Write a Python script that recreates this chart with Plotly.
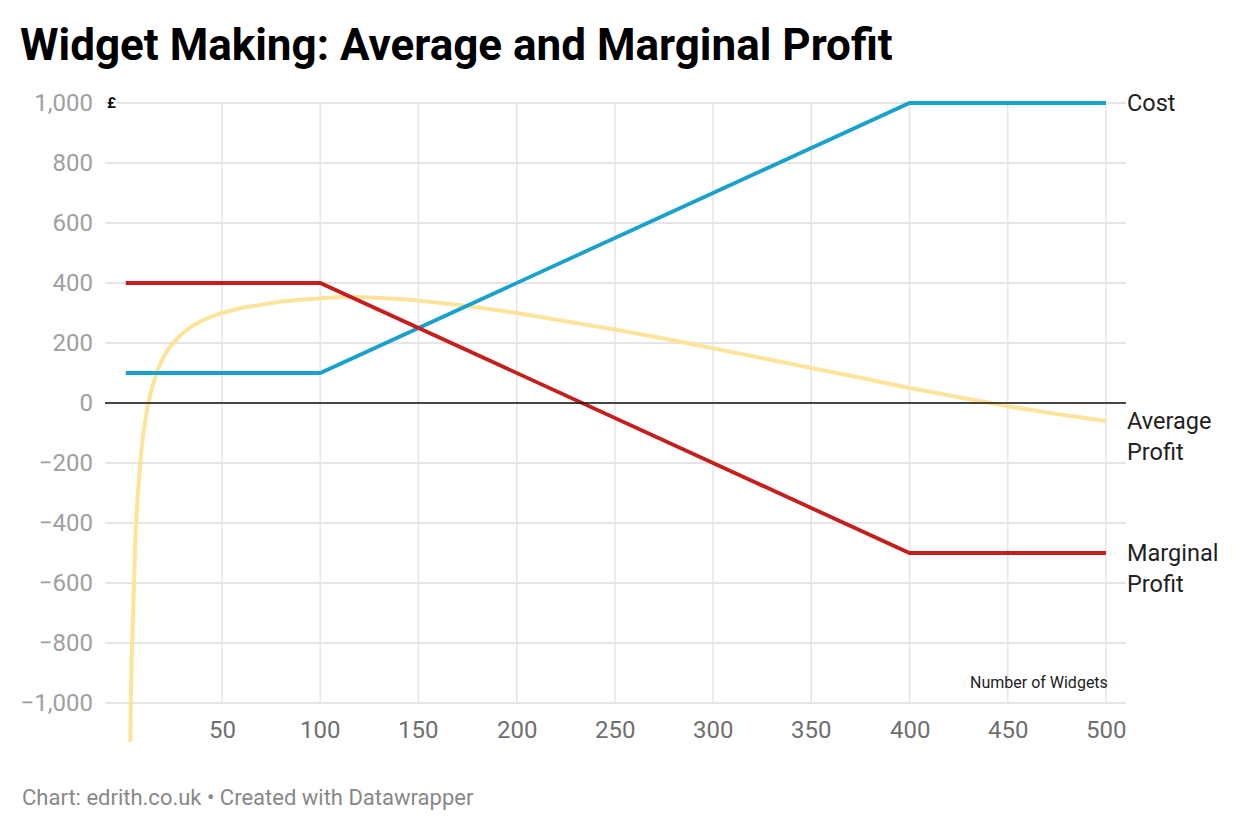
import plotly.graph_objects as go

# ---- data ----
cost_x = [1, 100, 400, 500]
cost_y = [100, 100, 1000, 1000]

marginal_x = [1, 100, 400, 500]
marginal_y = [400, 400, -500, -500]

average_x = [2, 2.5, 3, 3.5, 4, 4.5, 5, 6, 7, 8, 9, 10, 12, 14, 17, 20, 22, 25, 27, 30, 35, 40, 45,
             50, 60, 70, 80, 90, 100, 110, 120, 130, 140, 150, 175, 200, 225, 250, 275, 300,
             325, 350, 375, 400, 425, 450, 475, 500]
average_y = [-2100, -1600, -1267, -1029, -850, -711, -600, -433, -314, -225, -156, -100, -17, 43, 106,
             150, 173, 200, 215, 233, 257, 275, 289, 300, 317, 329, 338, 344, 350, 353, 353, 351,
             347, 342, 323, 300, 274, 245, 215, 183, 151, 118, 84, 50, 18, -11, -37, -60]

x_ticks = [50, 100, 150, 200, 250, 300, 350, 400, 450, 500]
y_ticks = [1000, 800, 600, 400, 200, 0, -200, -400, -600, -800, -1000]

title = "Widget Making: Average and Marginal Profit"
footer = "Chart: edrith.co.uk • Created with Datawrapper"
x_title = "Number of Widgets"
unit = "£"

BLUE = "#18a1cd"
RED = "#c71e1d"
YELLOW = "#fee49a"
FONT = "Roboto"

# page offset (browser body margin) compensation
OFF = 8
W, H = 1240, 830
L, R, T, B = 105 - OFF, 114 + OFF, 94 - OFF, 88 + OFF
PW, PH = W - L - R, H - T - B

fig = go.Figure()
fig.add_trace(go.Scatter(x=average_x, y=average_y, mode="lines",
                         line=dict(color=YELLOW, width=4), name="Average Profit"))
fig.add_trace(go.Scatter(x=cost_x, y=cost_y, mode="lines",
                         line=dict(color=BLUE, width=3.8), name="Cost"))
fig.add_trace(go.Scatter(x=marginal_x, y=marginal_y, mode="lines",
                         line=dict(color=RED, width=3.8), name="Marginal Profit"))

shapes = []
for t in x_ticks:
    shapes.append(dict(type="line", xref="x", yref="y", x0=t, x1=t, y0=min(y_ticks), y1=max(y_ticks),
                       line=dict(color="#e5e5e5", width=1.5), layer="below"))
shapes.append(dict(type="line", xref="paper", yref="y", x0=0, x1=1, y0=0, y1=0,
                   line=dict(color="#111111", width=1.5), layer="above"))

annotations = []
for t in x_ticks:
    annotations.append(dict(x=t, y=-1090, xref="x", yref="y", text=str(t), showarrow=False,
                            xanchor="center", yanchor="middle",
                            font=dict(family=FONT, size=24, color="#6f6f6f")))

label_font = dict(family=FONT, size=23.5, color="#222222")
annotations += [
    dict(x=1, y=1000, xref="paper", yref="y", text="Cost", showarrow=False,
         xanchor="left", yanchor="middle", xshift=-1, font=label_font, align="left"),
    dict(x=1, y=-113, xref="paper", yref="y", text="Average<br>Profit", showarrow=False,
         xanchor="left", yanchor="middle", xshift=-1, font=label_font, align="left"),
    dict(x=1, y=-553, xref="paper", yref="y", text="Marginal<br>Profit", showarrow=False,
         xanchor="left", yanchor="middle", xshift=-1, font=label_font, align="left"),
    dict(x=500, y=-933, xref="x", yref="y", text=x_title, showarrow=False,
         xanchor="right", yanchor="middle", xshift=4,
         font=dict(family=FONT, size=16, color="#222222")),
    dict(x=0, y=1000, xref="paper", yref="y", text="<b>" + unit + "</b>", showarrow=False,
         xanchor="left", yanchor="middle", xshift=1, bgcolor="white", borderpad=0,
         font=dict(family=FONT, size=15, color="#111111")),
    dict(xref="paper", yref="paper", x=(20 - OFF - L) / PW, y=-(797 - OFF - (H - B)) / PH,
         text=footer, showarrow=False, xanchor="left", yanchor="middle",
         font=dict(family=FONT, size=22, color="#888888")),
]

fig.update_layout(
    width=W, height=H,
    margin=dict(l=L, r=R, t=T, b=B),
    paper_bgcolor="white", plot_bgcolor="white",
    showlegend=False,
    separators=".,",
    font=dict(family=FONT),
    title=dict(text="<b>" + title + "</b>", x=(20 - OFF) / W, xanchor="left",
               y=1 - (45 - OFF) / H, yanchor="middle", xref="container", yref="container",
               font=dict(family=FONT, size=44, color="#000000")),
    xaxis=dict(range=[-9.57, 510.2], showgrid=False, zeroline=False, showticklabels=False,
               ticks="", showline=False, fixedrange=True),
    yaxis=dict(range=[-1130, 1030], tickvals=y_ticks, tickformat=",d",
               showgrid=True, gridcolor="#e5e5e5", gridwidth=1.5, zeroline=False,
               ticks="", showline=False, ticklabelstandoff=11,
               tickfont=dict(family=FONT, size=24, color="#a0a0a0")),
    shapes=shapes,
    annotations=annotations,
)

fig.write_html("out.html")
